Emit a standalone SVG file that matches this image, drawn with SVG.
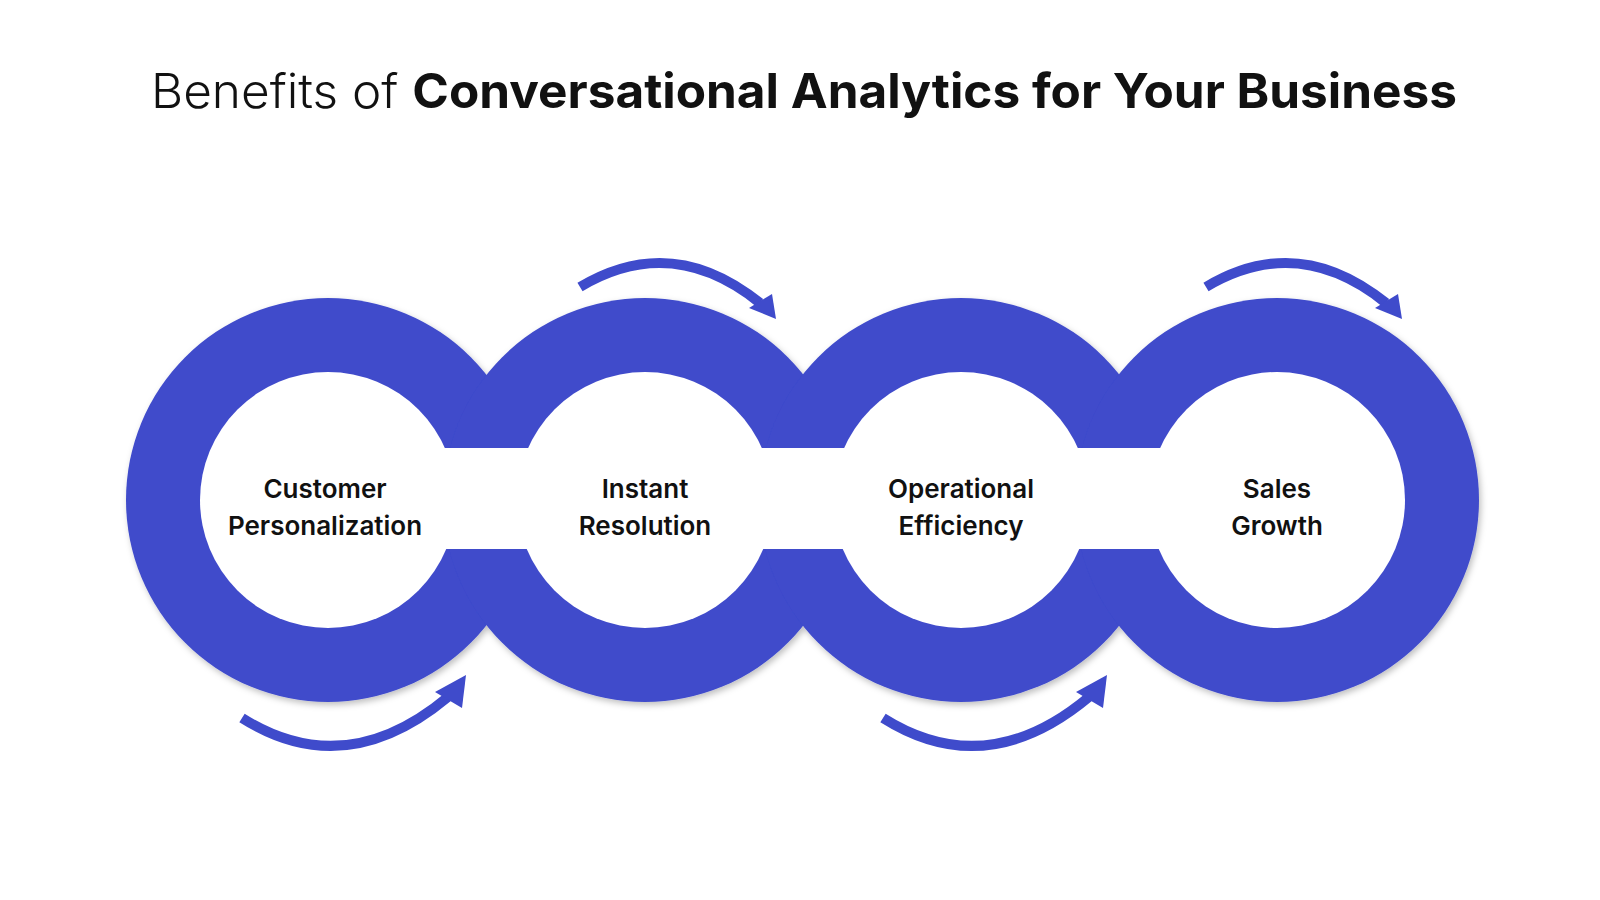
<svg xmlns="http://www.w3.org/2000/svg" width="1600" height="900" viewBox="0 0 1600 900">
<defs>
<filter id="sh" x="-20%" y="-20%" width="140%" height="140%"><feDropShadow dx="2" dy="3" stdDeviation="3" flood-color="#000" flood-opacity="0.25"/></filter>
</defs>
<style>
.ring{fill:#3F4BCB}
.hole{fill:#fff}
.arr{fill:none;stroke:#3F4BCB;stroke-width:10}
.head{fill:#3F4BCB}
.lbl{font-family:Inter,"DejaVu Sans",sans-serif;font-size:26px;font-weight:600;fill:#111;text-anchor:middle}
</style>
<rect width="1600" height="900" fill="#fff"/>
<text x="804" y="108" font-family="Inter,'DejaVu Sans',sans-serif" font-size="48" text-anchor="middle" fill="#111" textLength="1306" lengthAdjust="spacingAndGlyphs"><tspan font-weight="300">Benefits of </tspan><tspan font-weight="700">Conversational Analytics for Your Business</tspan></text>
<g id="chain">
<g filter="url(#sh)">
<circle class="ring" cx="328" cy="500" r="202"/>
<circle class="ring" cx="645" cy="500" r="202"/>
<circle class="ring" cx="961" cy="500" r="202"/>
<circle class="ring" cx="1277" cy="500" r="202"/>
</g>
<g>
<circle class="hole" cx="328" cy="500" r="128"/>
<circle class="hole" cx="645" cy="500" r="128"/>
<circle class="hole" cx="961" cy="500" r="128"/>
<circle class="hole" cx="1277" cy="500" r="128"/>
<rect class="hole" x="328" y="448" width="949" height="101"/>
</g>
</g>
<g id="n1"><text class="lbl" x="325" y="498">Customer</text><text class="lbl" x="325" y="535">Personalization</text></g>
<g id="n2"><text class="lbl" x="645" y="498">Instant</text><text class="lbl" x="645" y="535">Resolution</text></g>
<g id="n3"><text class="lbl" x="961" y="498">Operational</text><text class="lbl" x="961" y="535">Efficiency</text></g>
<g id="n4"><text class="lbl" x="1277" y="498">Sales</text><text class="lbl" x="1277" y="535">Growth</text></g>
<g id="connectors">
<path class="arr" d="M580,287 Q672,232 760,303"/>
<polygon class="head" points="749,308 772,294 776,319"/>
<g transform="translate(626,0)">
<path class="arr" d="M580,287 Q672,232 760,303"/>
<polygon class="head" points="749,308 772,294 776,319"/>
</g>
<path class="arr" d="M242,718 Q345,783 448,697"/>
<polygon class="head" points="435,692 462,708 466,675"/>
<g transform="translate(641,0)">
<path class="arr" d="M242,718 Q345,783 448,697"/>
<polygon class="head" points="435,692 462,708 466,675"/>
</g>
</g>
</svg>
